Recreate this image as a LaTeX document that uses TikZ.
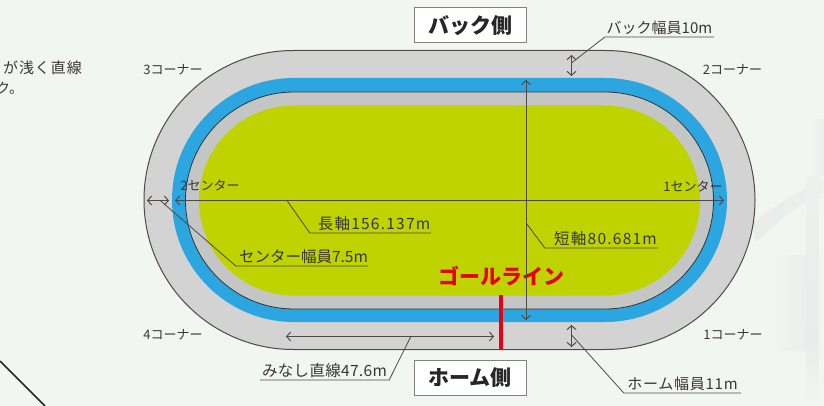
\documentclass[tikz,border=0pt]{standalone}
\usepackage{fontspec}
\setmainfont{Noto Sans CJK JP}
\usetikzlibrary{arrows.meta,shapes.misc,calc}
\definecolor{bgcol}{HTML}{F2F6F3}
\definecolor{ghostcol}{HTML}{E9ECEA}
\definecolor{inkcol}{HTML}{3A3533}
\definecolor{edgecol}{HTML}{4F4A48}
\definecolor{roadcol}{HTML}{D3D3D3}
\definecolor{bluecol}{HTML}{2CA6E0}
\definecolor{aproncol}{HTML}{C4C6C5}
\definecolor{fieldcol}{HTML}{BED300}
\definecolor{goalcol}{HTML}{E60012}
\tikzset{
    track/.style={rounded rectangle, minimum width=#1, inner sep=0pt, outer sep=0pt},
    cornerlbl/.style={text=inkcol, font=\fontsize{13}{13}\selectfont, inner sep=0pt},
    sidebox/.style={draw=edgecol!70, fill=white, line width=1pt, minimum width=112pt, minimum height=35pt, inner sep=0pt, font=\fontsize{21}{21}\selectfont\bfseries, text=black!85},
    leaderlbl/.style={text=inkcol, anchor=south, inner xsep=0pt, inner ysep=2pt, font=\fontsize{#1}{#1}\selectfont},
    leader/.style={draw=edgecol, line width=0.8pt},
    measure/.style={draw=edgecol, line width=1pt, {Straight Barb[length=4pt,width=9pt]}-{Straight Barb[length=4pt,width=9pt]}},
}
\begin{document}
\begin{tikzpicture}[x=1pt,y=-1pt]
    \useasboundingbox (0,0) rectangle (824,406);
    %%%%%%%%%% Sfondo %%%%%%%%%%
    \fill[bgcol] (0,0) rectangle (824,406);
    \shade[left color=ghostcol, right color=ghostcol!60!bgcol] (752,224) .. controls (775,205) and (800,190) .. (824,180) -- (824,192) .. controls (800,203) and (780,220) .. (756,242) -- cycle;
    \shade[top color=ghostcol!50!bgcol, bottom color=ghostcol] (806,177) rectangle (819,340);
    \shade[top color=ghostcol, bottom color=bgcol] (806,340) rectangle (819,406);
    \shade[left color=bgcol, right color=ghostcol!70!bgcol] (770,255) rectangle (806,350);
    \shade[left color=bgcol, right color=ghostcol] (812,120) rectangle (824,176);
    \draw[line width=1.5pt, black!85] (0,361) -- (45,406);
    \node[anchor=west, inner sep=0pt, text=inkcol, font=\fontsize{15}{15}\selectfont] (noteA) at (3,68) {\addfontfeature{LetterSpace=6}が浅く直線};
    \node[anchor=west, inner sep=0pt, text=inkcol, font=\fontsize{14}{14}\selectfont] (noteB) at (-4,88) {ク。};

    %%%%%%%%%% Pista %%%%%%%%%%
    \node[track=611pt, minimum height=299pt, fill=roadcol, draw=edgecol, line width=1pt] (outer) at (449.5,200) {};
    \node[track=555pt, minimum height=244pt, fill=bluecol] (blue) at (449.5,200) {};
    \node[track=528pt, minimum height=217pt, fill=aproncol, draw=black!80, line width=0.8pt] (inner) at (449.5,200.5) {};
    \node[track=501pt, minimum height=190pt, fill=fieldcol] (field) at (449.5,200.5) {};

    %%%%%%%%%% Punti %%%%%%%%%%
    \coordinate (goalA) at (501,295);
    \coordinate (goalB) at (501,349);
    \coordinate (longL) at (175,200.5);
    \coordinate (longR) at (724,200.5);
    \coordinate (shortT) at (526,80);
    \coordinate (shortB) at (526,320);
    \coordinate (centerL) at (147,200.5);
    \coordinate (centerR) at (169,200.5);
    \coordinate (backT) at (571.5,55);
    \coordinate (backB) at (571.5,76);
    \coordinate (homeT) at (571.5,325);
    \coordinate (homeB) at (571.5,347);
    \coordinate (straightL) at (286,336.5);
    \coordinate (straightR) at (494,336.5);

    %%%%%%%%%% Testi %%%%%%%%%%
    \node[sidebox] (backside) at (470,25.5) {バック側};
    \node[sidebox] (homeside) at (470,378) {ホーム側};
    \node[cornerlbl] (c3) at (173,70) {3コーナー};
    \node[cornerlbl] (c2) at (732.5,70) {2コーナー};
    \node[cornerlbl] (c4) at (173,335) {4コーナー};
    \node[cornerlbl] (c1) at (733,335) {1コーナー};
    \node[cornerlbl] (s2) at (210,185) {2センター};
    \node[cornerlbl] (s1) at (693,186) {1センター};
    \node[text=goalcol, inner sep=0pt, font=\fontsize{21}{21}\selectfont\bfseries] (goal) at (501.5,276.5) {ゴールライン};
    \node[leaderlbl=15, minimum width=109pt] (backlbl) at (659.5,37) {バック幅員10m};
    \node[leaderlbl=15, minimum width=117pt] (homelbl) at (682.5,393) {\addfontfeature{LetterSpace=5}ホーム幅員11m};
    \node[leaderlbl=15.5, minimum width=132pt] (centerlbl) at (302,266) {\hspace*{3pt}センター幅員7.5m};
    \node[leaderlbl=15.5, minimum width=121pt] (longlbl) at (370.5,233) {\hspace*{7pt}\addfontfeature{LetterSpace=8}長軸156.137m};
    \node[leaderlbl=15.5, minimum width=113pt] (shortlbl) at (601.5,248) {\hspace*{8pt}\addfontfeature{LetterSpace=8}短軸80.681m};
    \node[leaderlbl=15.5, minimum width=129pt] (straightlbl) at (324.5,380) {\addfontfeature{LetterSpace=2}みなし直線47.6m};

    %%%%%%%%%% Frecce %%%%%%%%%%
    \draw[measure] (longL) -- (longR);
    \draw[measure] (shortT) -- (shortB);
    \draw[measure] (centerL) -- (centerR);
    \draw[measure] (backT) -- (backB);
    \draw[measure] (homeT) -- (homeB);
    \draw[measure] (straightL) -- (straightR);
    \draw[goalcol, line width=4pt] (goalA) -- (goalB);

    %%%%%%%%%% Linee %%%%%%%%%%
    \draw[leader] ($(backT)!0.38!(backB)$) -- (backlbl.south west) -- (backlbl.south east);
    \draw[leader] ($(homeT)!0.45!(homeB)$) -- (homelbl.south west) -- (homelbl.south east);
    \draw[leader] ($(centerL)!0.6!(centerR)$) -- (centerlbl.south west) -- (centerlbl.south east);
    \draw[leader] ($(longL)!0.204!(longR)$) -- (longlbl.south west) -- (longlbl.south east);
    \draw[leader] ($(shortT)!0.595!(shortB)$) -- (shortlbl.south west) -- (shortlbl.south east);
    \draw[leader] ($(straightL)!0.6!(straightR)$) -- (straightlbl.south east) -- (straightlbl.south west);
\end{tikzpicture}
\end{document}
